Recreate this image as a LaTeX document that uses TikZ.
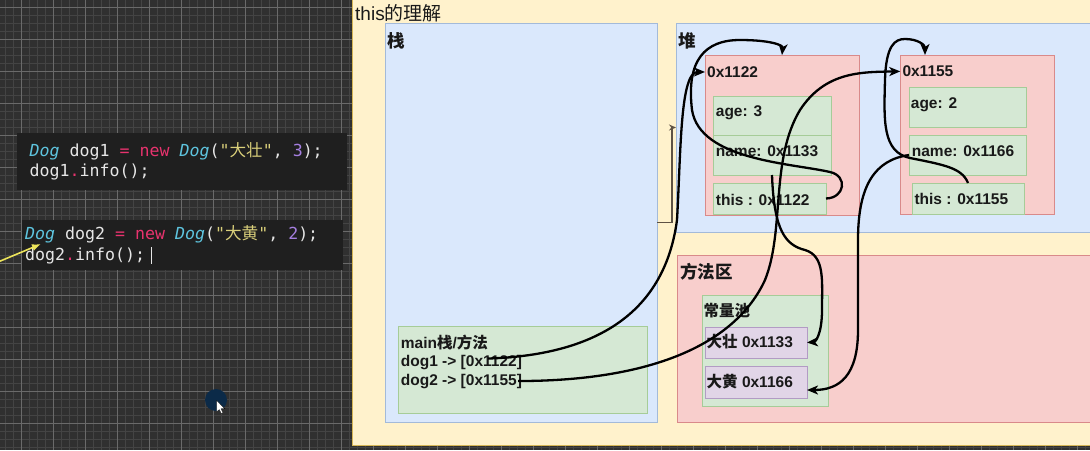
\documentclass[tikz,border=0pt]{standalone}
\usepackage{fontspec}
\setmainfont{Liberation Sans}
\setmonofont{DejaVu Sans Mono}
\newfontfamily\zh{Noto Sans CJK SC}
\usetikzlibrary{arrows.meta}
\definecolor{gridbg}{HTML}{303030}
\definecolor{gridminor}{HTML}{444444}
\definecolor{gridmajor}{HTML}{6A6A6A}
\definecolor{codebg}{HTML}{1F1F1F}
\definecolor{kwcyan}{HTML}{5EC4DE}
\definecolor{kwpink}{HTML}{E8336E}
\definecolor{kwstr}{HTML}{D9CF7A}
\definecolor{kwnum}{HTML}{A57FE0}
\definecolor{codefg}{HTML}{E6E6E6}
\definecolor{ylfill}{HTML}{FFF2CC}
\definecolor{yldraw}{HTML}{D6B656}
\definecolor{blfill}{HTML}{DAE8FC}
\definecolor{bldraw}{HTML}{A3BAD9}
\definecolor{rdfill}{HTML}{F8CECC}
\definecolor{rddraw}{HTML}{D98A8A}
\definecolor{grfill}{HTML}{D5E8D4}
\definecolor{grdraw}{HTML}{A6CC98}
\definecolor{pufill}{HTML}{E1D5E7}
\definecolor{pudraw}{HTML}{B29BC4}
\definecolor{linkgray}{HTML}{5E5244}
\definecolor{ptryellow}{HTML}{ECE45A}
\definecolor{cursorblue}{HTML}{0B2A48}
\newcommand\Z[1]{{\zh #1}}
\tikzset{
  dbox/.style={draw, line width=0.9pt, anchor=north west, inner sep=0pt, outer sep=0pt},
  dtxt/.style={anchor=base west, inner sep=0pt, text=black!90, font=\fontsize{15.5}{18}\selectfont\bfseries},
  dhdr/.style={dtxt, font=\fontsize{17.5}{20}\selectfont\bfseries},
  dcode/.style={anchor=base west, inner sep=0pt, text=codefg, font=\fontsize{16.6}{20}\selectfont\ttfamily},
  dlink/.style={draw=black, line width=2.3pt, -{Stealth[length=11pt,width=9pt,inset=3pt]}},
  dsmall/.style={draw=linkgray, line width=1.2pt, -{Stealth[length=7pt,width=6pt]}},
}
\begin{document}
\begin{tikzpicture}[x=1pt,y=-1pt]
\useasboundingbox (0,0) rectangle (1090,450);
\clip (0,0) rectangle (1090,450);
% ---- dark grid background
\fill[gridbg] (0,0) rectangle (1090,450);
\foreach \i in {0,...,136} {\draw[gridminor, line width=0.7pt] ({5.5+8*\i},0) -- ({5.5+8*\i},450);}
\foreach \j in {0,...,56} {\draw[gridminor, line width=0.7pt] (0,{-0.7+8*\j}) -- (1090,{-0.7+8*\j});}
\foreach \i in {0,...,33} {\draw[gridmajor, line width=0.9pt] ({21.5+32*\i},0) -- ({21.5+32*\i},450);}
\foreach \j in {0,...,13} {\draw[gridmajor, line width=0.9pt] (0,{7.3+32*\j}) -- (1090,{7.3+32*\j});}
% ---- code boxes
\node[dbox, draw=none, fill=codebg, minimum width=330, minimum height=57] (cb1) at (17,133) {};
\node[dbox, draw=none, fill=codebg, minimum width=321, minimum height=50] (cb2) at (22,220) {};
\node[dcode] (c1a) at (29.5,156) {\textcolor{kwcyan}{\itshape Dog} dog1 \textcolor{kwpink}{= new} \textcolor{kwcyan}{\itshape Dog}(\textcolor{kwstr}{"\Z{大壮}"}, \textcolor{kwnum}{3});};
\node[dcode] (c1b) at (29.5,176.7) {dog1\textcolor{kwpink}{.}info();};
\node[dcode] (c2a) at (25,239.3) {\textcolor{kwcyan}{\itshape Dog} dog2 \textcolor{kwpink}{= new} \textcolor{kwcyan}{\itshape Dog}(\textcolor{kwstr}{"\Z{大黄}"}, \textcolor{kwnum}{2});};
\node[dcode] (c2b) at (25,260) {dog2\textcolor{kwpink}{.}info();};
\coordinate (cur0) at (151,247);
\coordinate (cur1) at (151,264);
\draw[codefg, line width=0.9pt] (cur0) -- (cur1);
% yellow pointer arrow
\coordinate (yp0) at (-2,262);
\coordinate (yp1) at (41,244);
\draw[ptryellow, line width=1.6pt, -{Latex[length=9pt,width=7pt]}] (yp0) -- (yp1);
% mouse
\node[circle, fill=cursorblue, minimum size=22pt, inner sep=0pt] (mouse) at (216,400) {};
\fill[white, draw=black, line width=0.3pt] (216.5,400.5) -- (216.5,412) -- (219.3,409.5) -- (221.3,413.5) -- (223,412.7) -- (221,408.7) -- (224.8,408.7) -- cycle;
% ---- main yellow panel
\node[dbox, fill=ylfill, draw=yldraw, minimum width=760, minimum height=455] (panel) at (352.5,-10) {};
\node[anchor=base west, inner sep=0pt, font=\fontsize{19}{22}\selectfont, text=black!90] (title) at (355,20.7) {this\Z{的理解}};
% stack
\node[dbox, fill=blfill, draw=bldraw, minimum width=272, minimum height=399] (stack) at (385,23) {};
\node[dhdr] (stackl) at (387.5,47) {\Z{栈}};
\node[dbox, fill=grfill, draw=grdraw, minimum width=249, minimum height=87] (mainf) at (398,326) {};
\node[dtxt] (m0) at (400.7,348) {main\Z{栈}/\Z{方法}};
\node[dtxt] (d1) at (400.7,366.5) {dog1 -> [0x1122]};
\node[dtxt] (d2) at (400.7,385) {dog2 -> [0x1155]};
% heap
\node[dbox, fill=blfill, draw=bldraw, minimum width=430, minimum height=209] (heap) at (676,23) {};
\node[dhdr] (heapl) at (678.5,47) {\Z{堆}};
\node[dbox, fill=rdfill, draw=rddraw, minimum width=154, minimum height=160] (o1) at (705,55) {};
\node[dtxt] (a1) at (707,77.3) {0x1122};
\node[dbox, fill=grfill, draw=grdraw, minimum width=118, minimum height=39] (age1) at (713,96) {};
\node[dtxt] (age1l) at (715.7,116.5) {age: 3};
\node[dbox, fill=grfill, draw=grdraw, minimum width=118, minimum height=40] (n1) at (713,135) {};
\node[dtxt] (n1l) at (715.7,156.5) {name: 0x1133};
\node[dbox, fill=grfill, draw=grdraw, minimum width=113, minimum height=31] (t1) at (713,183) {};
\node[dtxt] (t1l) at (715.7,205) {this : 0x1122};
\node[dbox, fill=rdfill, draw=rddraw, minimum width=154, minimum height=159] (o2) at (900,55) {};
\node[dtxt] (a2) at (902.3,76.7) {0x1155};
\node[dbox, fill=grfill, draw=grdraw, minimum width=117, minimum height=40] (age2) at (909,87) {};
\node[dtxt] (age2l) at (910.7,108.3) {age: 2};
\node[dbox, fill=grfill, draw=grdraw, minimum width=117, minimum height=40] (n2) at (909,135) {};
\node[dtxt] (n2l) at (911.7,156.7) {name: 0x1166};
\node[dbox, fill=grfill, draw=grdraw, minimum width=112, minimum height=31] (t2) at (912,183) {};
\node[dtxt] (t2l) at (914.3,204.3) {this : 0x1155};
% method area
\node[dbox, fill=rdfill, draw=rddraw, minimum width=430, minimum height=167] (meth) at (677,255) {};
\node[dhdr] (methl) at (680,278) {\Z{方法区}};
\node[dbox, fill=grfill, draw=grdraw, minimum width=126, minimum height=111] (pool) at (702,295) {};
\node[dtxt] (pooll) at (703.5,316) {\Z{常量池}};
\node[dbox, fill=pufill, draw=pudraw, minimum width=102, minimum height=31] (dz) at (705,327) {};
\node[dtxt] (dzl) at (706.5,347.3) {\Z{大壮} 0x1133};
\node[dbox, fill=pufill, draw=pudraw, minimum width=102, minimum height=32] (dh) at (705,366) {};
\node[dtxt] (dhl) at (706.5,387.3) {\Z{大黄} 0x1166};
% ---- connectors
\draw[dsmall] (stack.east) -| ([xshift=-4pt]heap.west) -- (heap.west);
% dog1 -> 0x1122
\draw[dlink] ([shift={(-34pt,4pt)}]d1.east) .. controls (600,355) and (665,310) .. (677,220)
  .. controls (681,150) and (680,72) .. ([xshift=-2pt]a1.west);
% dog2 -> 0x1155
\draw[dlink] ([xshift=-4pt]d2.east) .. controls (650,381) and (735,345) .. (765,280)
  .. controls (785,230) and (770,160) .. (800,110)
  .. controls (825,72) and (860,72) .. ([xshift=-2pt]a2.west);
% this (obj1) -> obj1
\draw[dlink] (t1.east) .. controls (845,198) and (848,176) .. (830,172)
  .. controls (790,163) and (700,160) .. (692,110)
  .. controls (686,60) and (705,40) .. (740,40)
  .. controls (770,40) and (783,45) .. (o1.north);
% this (obj2) -> obj2
\draw[dlink] (t2.north) .. controls (962,168) and (945,165) .. (910,158)
  .. controls (882,152) and (884,120) .. (885,80)
  .. controls (886,45) and (895,39) .. (905,39)
  .. controls (918,39) and (925,45) .. ([xshift=-52pt]o2.north);
% name (obj1) -> 大壮
\draw[dlink] (n1.south) .. controls (774,230) and (785,245) .. (805,250)
  .. controls (825,256) and (822,280) .. (822,310)
  .. controls (822,335) and (815,342) .. (dz.east);
% name (obj2) -> 大黄
\draw[dlink] (n2.west) .. controls (875,160) and (858,185) .. (858,240) -- (858,330)
  .. controls (858,375) and (840,390) .. ([yshift=-8pt]dh.east);
\end{tikzpicture}
\end{document}
